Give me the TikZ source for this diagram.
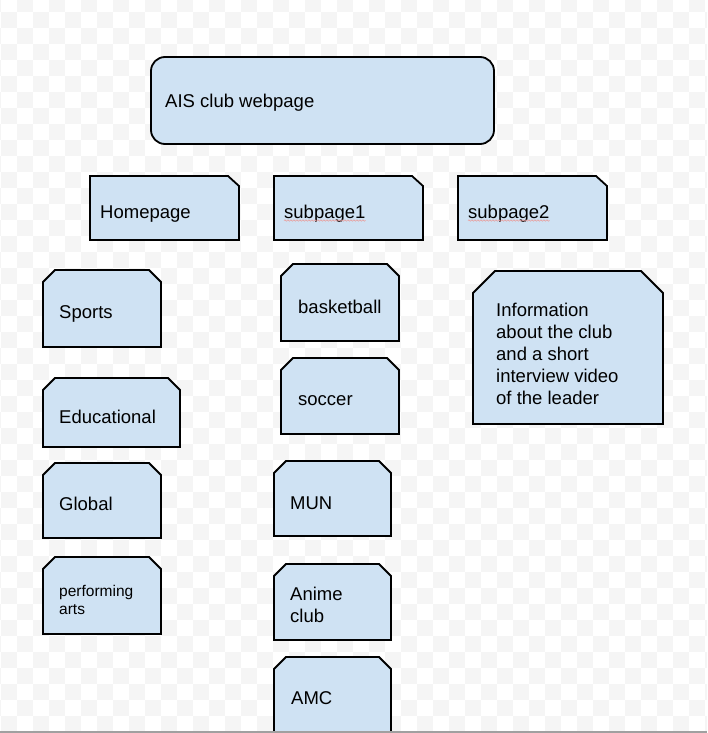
\documentclass[tikz,border=0pt]{standalone}
\usepackage{fontspec}
\setmainfont{Liberation Sans}
\usepackage{xcolor}
\usepackage{tikz}
\usetikzlibrary{decorations.pathmorphing}
\definecolor{boxblue}{HTML}{CFE2F3}
\definecolor{checker}{HTML}{F5F5F5}
\definecolor{spellred}{HTML}{E8A0A0}
\definecolor{edgegray}{HTML}{A0A0A0}

% box with the top right corner cut off
\newcommand{\tabbox}[4]{\draw[box] (#1,#2) -- ({#3-11},#2) -- (#3,{#2+10}) -- (#3,#4) -- (#1,#4) -- cycle;}
% box with both top corners cut off
\newcommand{\capbox}[5]{\draw[box] (#1,{#2+#5}) -- ({#1+#5},#2) -- ({#3-#5},#2) -- (#3,{#2+#5}) -- (#3,#4) -- (#1,#4) -- cycle;}

\begin{document}
\begin{tikzpicture}[x=1pt, y=-1pt,
    box/.style={draw=black, line width=1.8pt, fill=boxblue},
    lbl/.style={font=\fontsize{18.5}{22}\selectfont, inner sep=0pt, anchor=base west, align=left},
    small/.style={lbl, font=\fontsize{15.5}{18}\selectfont},
    spell/.style={spellred, line width=0.6pt, decorate, decoration={snake, amplitude=0.7pt, segment length=3pt}}
  ]
  \useasboundingbox (0,0) rectangle (707,733);
  \clip (0,0) rectangle (707,733);

  % Background
  \fill[white] (0,0) rectangle (707,733);
  \foreach \i in {-1,...,44}{
    \foreach \j in {-1,...,45}{
      \pgfmathtruncatemacro{\k}{mod(\i+\j+100,2)}
      \ifnum\k=0
        \fill[checker] ({1+16*\i},{12+16*\j}) rectangle ++(16,16);
      \fi
    }
  }

  % Top
  \draw[box, rounded corners=14pt] (151,57) rectangle (494,144);
  \node[lbl] (title) at (165,108) {AIS club webpage};

  % Pages
  \tabbox{90}{176}{239}{240}
  \tabbox{274}{176}{423}{240}
  \tabbox{458}{176}{607}{240}
  \node[lbl] (home) at (100,218) {Homepage};
  \node[lbl] (sub1) at (284,218) {subpage1};
  \node[lbl] (sub2) at (468,218) {subpage2};
  \draw[spell] ([yshift=1.5pt]sub1.south west) -- ([yshift=1.5pt]sub1.south east);
  \draw[spell] ([yshift=1.5pt]sub2.south west) -- ([yshift=1.5pt]sub2.south east);

  % Homepage column
  \capbox{43}{270}{161}{347}{12}
  \capbox{43}{378}{180}{447}{12}
  \capbox{43}{463}{161}{538}{12}
  \capbox{43}{557}{161}{634}{12}
  \node[lbl] (sports) at (59,318) {Sports};
  \node[lbl] (edu) at (59,423) {Educational};
  \node[lbl] (global) at (59,510) {Global};
  \node[small] (arts) at (59,614) {performing\\arts};

  % Subpage1 column
  \capbox{281}{264}{399}{341}{12}
  \capbox{281}{358}{399}{434}{12}
  \capbox{274}{461}{391}{536}{12}
  \capbox{274}{564}{391}{640}{12}
  \capbox{274}{657}{391}{760}{12}
  \node[lbl] (bball) at (298,313) {basketball};
  \node[lbl] (soccer) at (298,405) {soccer};
  \node[lbl] (mun) at (290,509) {MUN};
  \node[lbl] (anime) at (290,622) {Anime\\club};
  \node[lbl] (amc) at (291,704) {AMC};

  % Subpage2 column
  \capbox{473}{271}{663}{424}{22}
  \node[lbl] (info) at (496,404) {Information\\about the club\\and a short\\interview video\\of the leader};

  \fill[edgegray] (0,730.5) rectangle (707,733);
\end{tikzpicture}
\end{document}
